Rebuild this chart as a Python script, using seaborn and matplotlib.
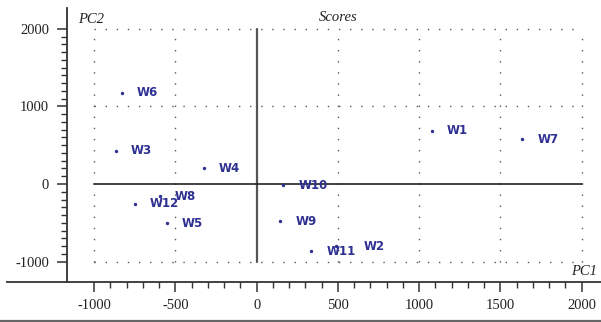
import matplotlib
matplotlib.use("Agg")
import matplotlib.pyplot as plt
from matplotlib.lines import Line2D
from matplotlib.ticker import FixedLocator
import numpy as np
import pandas as pd
import seaborn as sns

# PCA scores of the samples
samples = ["W1", "W2", "W3", "W4", "W5", "W6", "W7", "W8", "W9", "W10", "W11", "W12"]
pc1 = [1079, 486, -868, -324, -552, -829, 1635, -597, 146, 164, 337, -751]
pc2 = [688, -800, 430, 203, -503, 1178, 577, -155, -477, -17, -865, -254]

x_ticks = [-1000, -500, 0, 500, 1000, 1500, 2000]
y_ticks = [-1000, 0, 1000, 2000]

df = pd.DataFrame({"sample": samples, "PC1": pc1, "PC2": pc2})

sns.set_style("white")
W, H, DPI = 601, 322, 100
fig = plt.figure(figsize=(W / DPI, H / DPI), dpi=DPI)
ax = fig.add_axes([7 / W, 1 - 282 / H, 594 / W, 274 / H])

point_color = "#2e3192"
sns.scatterplot(data=df, x="PC1", y="PC2", ax=ax, color=point_color,
                s=6, linewidth=0, zorder=5, legend=False)

ax.set_xlim(-1537, 2119)
ax.set_ylim(-1263, 2268)
ax.set_xlabel("")
ax.set_ylabel("")

# frame lines of the score plot
grid_kw = dict(color="#555555", lw=1.0, linestyle=(0, (1, 7)), zorder=1)
for gx in [-1000, -500, 500, 1000, 1500, 2000]:
    ax.plot([gx, gx], [-1000, 2000], **grid_kw)
for gy in [-1000, 1000, 2000]:
    ax.plot([-1000, 2000], [gy, gy], **grid_kw)
ax.plot([0, 0], [-1000, 2000], color="#555555", lw=1.6, zorder=2)
ax.plot([-1000, 2000], [0, 0], color="#222222", lw=1.2, zorder=2)

# sample labels
label_offsets = {"W2": 20}
for name, x, y in zip(samples, pc1, pc2):
    ax.annotate(name, (x, y), xytext=(label_offsets.get(name, 10.8), 0),
                textcoords="offset points", ha="left", va="center",
                fontsize=8.5, fontweight="bold", color=point_color,
                family="DejaVu Sans", zorder=6)

# spines and ticks
for side in ["top", "right"]:
    ax.spines[side].set_visible(False)
ax.spines["left"].set_position(("data", -1167.5))
for side in ["left", "bottom"]:
    ax.spines[side].set_color("#333333")
    ax.spines[side].set_linewidth(1.3)

ax.xaxis.set_major_locator(FixedLocator(x_ticks))
ax.yaxis.set_major_locator(FixedLocator(y_ticks))
ax.xaxis.set_minor_locator(FixedLocator(np.arange(-1000, 2001, 100)))
ax.yaxis.set_minor_locator(FixedLocator(np.arange(-1000, 2001, 100)))
ax.set_xticklabels([str(v) for v in x_ticks])
ax.set_yticklabels([str(v) for v in y_ticks])
ax.tick_params(axis="both", which="major", direction="out", length=7,
               width=1.1, color="#333333", labelsize=10.5, labelcolor="#222222")
ax.tick_params(axis="both", which="minor", direction="out", length=4,
               width=1.0, color="#333333")
ax.tick_params(axis="x", which="both", bottom=True, pad=5)
ax.tick_params(axis="y", which="both", left=True, pad=6)
for lab in ax.get_xticklabels() + ax.get_yticklabels():
    lab.set_family("Liberation Serif")

# titles
title_kw = dict(family="Liberation Serif", style="italic", fontsize=10.5,
                color="#222222", va="baseline")
fig.text(338 / W, 1 - 21 / H, "Scores", ha="center", **title_kw)
fig.text(78 / W, 1 - 23 / H, "PC2", ha="left", **title_kw)
fig.text(597 / W, 1 - 275 / H, "PC1", ha="right", **title_kw)

# bottom rule
fig.add_artist(Line2D([0, 1], [1 - 320.5 / H, 1 - 320.5 / H],
                      transform=fig.transFigure, color="#666666", lw=1.6))

fig.savefig("out.png", dpi=DPI)
